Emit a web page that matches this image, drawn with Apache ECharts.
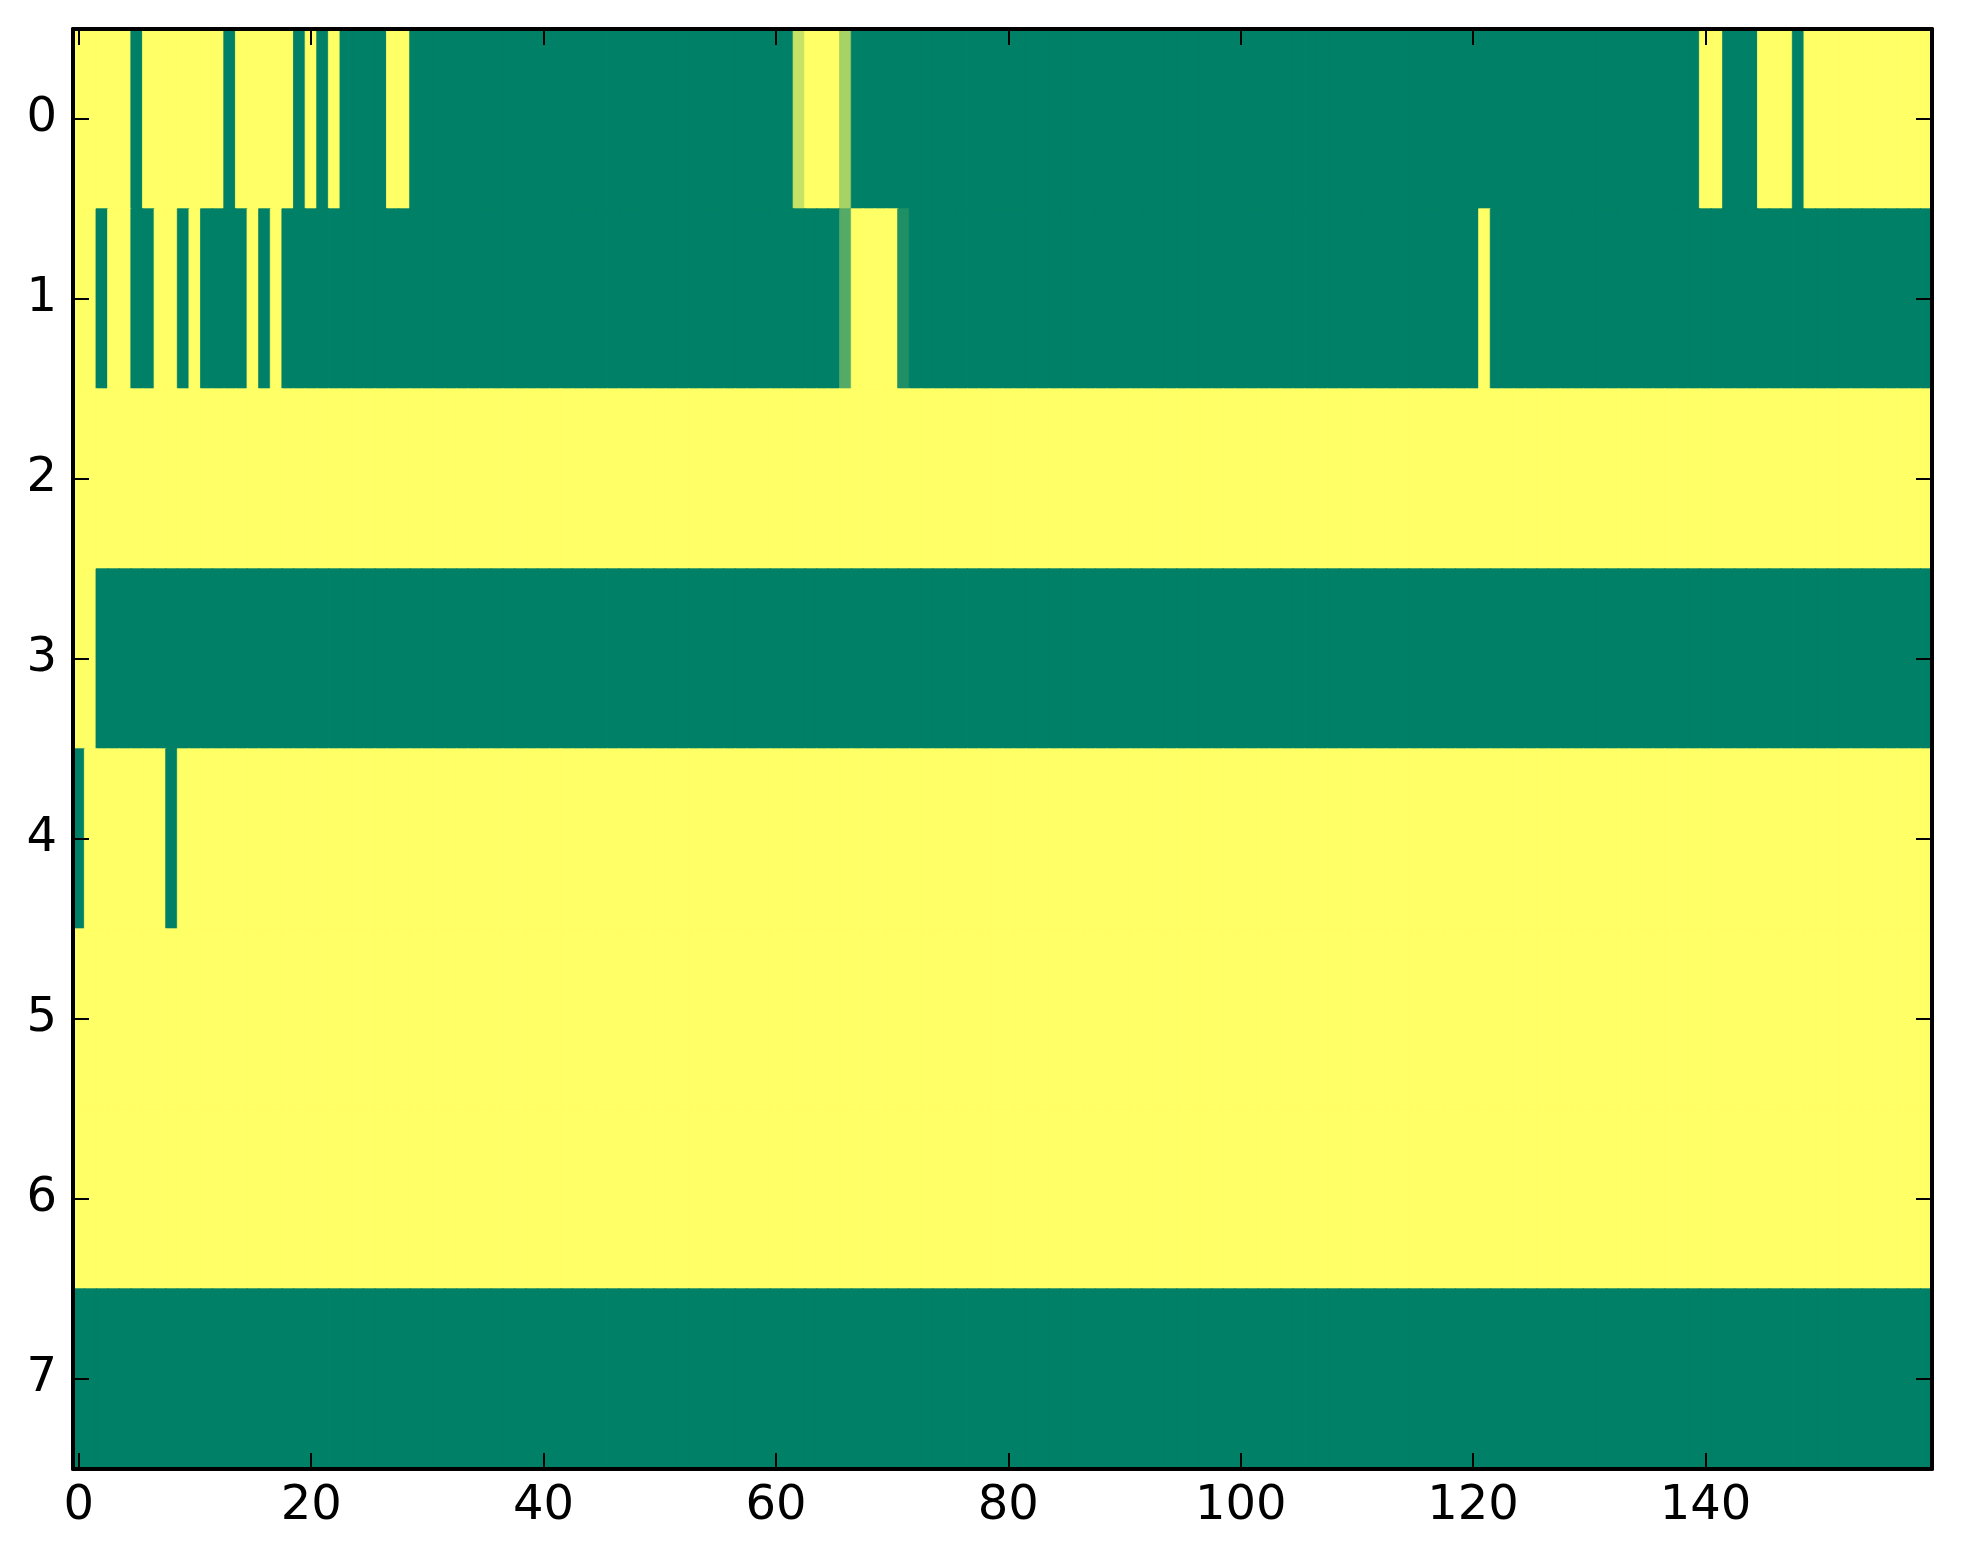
<!DOCTYPE html>
<html>
<head>
<meta charset="utf-8">
<script src="https://cdn.jsdelivr.net/npm/echarts@6/dist/echarts.min.js"></script>
<style>
html,body{margin:0;padding:0;background:#fff;}
#chart{width:1963px;height:1564px;}
</style>
</head>
<body>
<div id="chart"></div>
<script>
// Column categories 0..159 and row categories 0..7
const xCategories = Array.from({length: 160}, (_, i) => String(i));
const yCategories = ['0', '1', '2', '3', '4', '5', '6', '7'];
const xTickLabels = ['0', '20', '40', '60', '80', '100', '120', '140'];

// Cell values per row (0 = green, 1 = yellow)
const row0 = [
  1,1,1,1,1,0,1,1,1,1,1,1,1,0,1,1,1,1,1,0,
  1,0,1,0,0,0,0,1,1,0,0,0,0,0,0,0,0,0,0,0,
  0,0,0,0,0,0,0,0,0,0,0,0,0,0,0,0,0,0,0,0,
  0,0,0.78,1,1,1,0.65,0,0,0,0,0,0,0,0,0,0,0,0,0,
  0,0,0,0,0,0,0,0,0,0,0,0,0,0,0,0,0,0,0,0,
  0,0,0,0,0,0,0,0,0,0,0,0,0,0,0,0,0,0,0,0,
  0,0,0,0,0,0,0,0,0,0,0,0,0,0,0,0,0,0,0,0,
  1,1,0,0,0,1,1,1,0,1,1,1,1,1,1,1,1,1,1,1
];
const row1 = [
  1,1,0,1,1,0,0,1,1,0,1,0,0,0,0,1,0,1,0,0,
  0,0,0,0,0,0,0,0,0,0,0,0,0,0,0,0,0,0,0,0,
  0,0,0,0,0,0,0,0,0,0,0,0,0,0,0,0,0,0,0,0,
  0,0,0,0,0,0,0.33,1,1,1,1,0.12,0,0,0,0,0,0,0,0,
  0,0,0,0,0,0,0,0,0,0,0,0,0,0,0,0,0,0,0,0,
  0,0,0,0,0,0,0,0,0,0,0,0,0,0,0,0,0,0,0,0,
  0,1,0,0,0,0,0,0,0,0,0,0,0,0,0,0,0,0,0,0,
  0,0,0,0,0,0,0,0,0,0,0,0,0,0,0,0,0,0,0,0
];
const row2 = [
  1,1,1,1,1,1,1,1,1,1,1,1,1,1,1,1,1,1,1,1,
  1,1,1,1,1,1,1,1,1,1,1,1,1,1,1,1,1,1,1,1,
  1,1,1,1,1,1,1,1,1,1,1,1,1,1,1,1,1,1,1,1,
  1,1,1,1,1,1,1,1,1,1,1,1,1,1,1,1,1,1,1,1,
  1,1,1,1,1,1,1,1,1,1,1,1,1,1,1,1,1,1,1,1,
  1,1,1,1,1,1,1,1,1,1,1,1,1,1,1,1,1,1,1,1,
  1,1,1,1,1,1,1,1,1,1,1,1,1,1,1,1,1,1,1,1,
  1,1,1,1,1,1,1,1,1,1,1,1,1,1,1,1,1,1,1,1
];
const row3 = [
  1,1,0,0,0,0,0,0,0,0,0,0,0,0,0,0,0,0,0,0,
  0,0,0,0,0,0,0,0,0,0,0,0,0,0,0,0,0,0,0,0,
  0,0,0,0,0,0,0,0,0,0,0,0,0,0,0,0,0,0,0,0,
  0,0,0,0,0,0,0,0,0,0,0,0,0,0,0,0,0,0,0,0,
  0,0,0,0,0,0,0,0,0,0,0,0,0,0,0,0,0,0,0,0,
  0,0,0,0,0,0,0,0,0,0,0,0,0,0,0,0,0,0,0,0,
  0,0,0,0,0,0,0,0,0,0,0,0,0,0,0,0,0,0,0,0,
  0,0,0,0,0,0,0,0,0,0,0,0,0,0,0,0,0,0,0,0
];
const row4 = [
  0,1,1,1,1,1,1,1,0,1,1,1,1,1,1,1,1,1,1,1,
  1,1,1,1,1,1,1,1,1,1,1,1,1,1,1,1,1,1,1,1,
  1,1,1,1,1,1,1,1,1,1,1,1,1,1,1,1,1,1,1,1,
  1,1,1,1,1,1,1,1,1,1,1,1,1,1,1,1,1,1,1,1,
  1,1,1,1,1,1,1,1,1,1,1,1,1,1,1,1,1,1,1,1,
  1,1,1,1,1,1,1,1,1,1,1,1,1,1,1,1,1,1,1,1,
  1,1,1,1,1,1,1,1,1,1,1,1,1,1,1,1,1,1,1,1,
  1,1,1,1,1,1,1,1,1,1,1,1,1,1,1,1,1,1,1,1
];
const row5 = [
  1,1,1,1,1,1,1,1,1,1,1,1,1,1,1,1,1,1,1,1,
  1,1,1,1,1,1,1,1,1,1,1,1,1,1,1,1,1,1,1,1,
  1,1,1,1,1,1,1,1,1,1,1,1,1,1,1,1,1,1,1,1,
  1,1,1,1,1,1,1,1,1,1,1,1,1,1,1,1,1,1,1,1,
  1,1,1,1,1,1,1,1,1,1,1,1,1,1,1,1,1,1,1,1,
  1,1,1,1,1,1,1,1,1,1,1,1,1,1,1,1,1,1,1,1,
  1,1,1,1,1,1,1,1,1,1,1,1,1,1,1,1,1,1,1,1,
  1,1,1,1,1,1,1,1,1,1,1,1,1,1,1,1,1,1,1,1
];
const row6 = [
  1,1,1,1,1,1,1,1,1,1,1,1,1,1,1,1,1,1,1,1,
  1,1,1,1,1,1,1,1,1,1,1,1,1,1,1,1,1,1,1,1,
  1,1,1,1,1,1,1,1,1,1,1,1,1,1,1,1,1,1,1,1,
  1,1,1,1,1,1,1,1,1,1,1,1,1,1,1,1,1,1,1,1,
  1,1,1,1,1,1,1,1,1,1,1,1,1,1,1,1,1,1,1,1,
  1,1,1,1,1,1,1,1,1,1,1,1,1,1,1,1,1,1,1,1,
  1,1,1,1,1,1,1,1,1,1,1,1,1,1,1,1,1,1,1,1,
  1,1,1,1,1,1,1,1,1,1,1,1,1,1,1,1,1,1,1,1
];
const row7 = [
  0,0,0,0,0,0,0,0,0,0,0,0,0,0,0,0,0,0,0,0,
  0,0,0,0,0,0,0,0,0,0,0,0,0,0,0,0,0,0,0,0,
  0,0,0,0,0,0,0,0,0,0,0,0,0,0,0,0,0,0,0,0,
  0,0,0,0,0,0,0,0,0,0,0,0,0,0,0,0,0,0,0,0,
  0,0,0,0,0,0,0,0,0,0,0,0,0,0,0,0,0,0,0,0,
  0,0,0,0,0,0,0,0,0,0,0,0,0,0,0,0,0,0,0,0,
  0,0,0,0,0,0,0,0,0,0,0,0,0,0,0,0,0,0,0,0,
  0,0,0,0,0,0,0,0,0,0,0,0,0,0,0,0,0,0,0,0
];

const rows = [row0, row1, row2, row3, row4, row5, row6, row7];

// "summer" colormap: r = v, g = 0.5 + v/2, b = 0.4
function summer(v) {
  const r = Math.round(255 * v);
  const g = Math.round(255 * (0.5 + v / 2));
  const b = Math.round(255 * 0.4);
  return 'rgb(' + r + ',' + g + ',' + b + ')';
}

const cells = [];
rows.forEach((r, yi) => r.forEach((v, xi) => {
  const c = summer(v);
  cells.push({value: [xi, yi, v], itemStyle: {color: c, borderColor: c, borderWidth: 0.8}});
}));

const FONT = 'DejaVu Sans';
const xTickInterval = (idx) => xTickLabels.indexOf(xCategories[idx]) >= 0;
const axisLine = {show: true, onZero: false, lineStyle: {color: '#000', width: 4}};
const tickStyle = {color: '#000', width: 2};

const chart = echarts.init(document.getElementById('chart'));
chart.setOption({
  animation: false,
  backgroundColor: '#ffffff',
  grid: {left: 73, right: 31, top: 29, bottom: 95, containLabel: false},
  xAxis: [
    {
      type: 'category', data: xCategories, position: 'bottom', z: 10,
      axisLine: axisLine,
      axisTick: {show: true, inside: true, length: 16, alignWithLabel: true, interval: xTickInterval, lineStyle: tickStyle},
      axisLabel: {show: true, interval: xTickInterval, margin: 14, color: '#000', fontFamily: FONT, fontSize: 48},
      splitLine: {show: false}
    },
    {
      type: 'category', data: xCategories, position: 'top', z: 10,
      axisLine: axisLine,
      axisTick: {show: true, inside: true, length: 16, alignWithLabel: true, interval: xTickInterval, lineStyle: tickStyle},
      axisLabel: {show: false},
      splitLine: {show: false}
    }
  ],
  yAxis: [
    {
      type: 'category', data: yCategories, inverse: true, position: 'left', z: 10,
      axisLine: axisLine,
      axisTick: {show: true, inside: true, length: 16, alignWithLabel: true, lineStyle: tickStyle},
      axisLabel: {show: true, margin: 16, color: '#000', fontFamily: FONT, fontSize: 48},
      splitLine: {show: false}
    },
    {
      type: 'category', data: yCategories, inverse: true, position: 'right', z: 10,
      axisLine: axisLine,
      axisTick: {show: true, inside: true, length: 16, alignWithLabel: true, lineStyle: tickStyle},
      axisLabel: {show: false},
      splitLine: {show: false}
    }
  ],
  series: [{
    type: 'heatmap',
    xAxisIndex: 0, yAxisIndex: 0,
    data: cells,
    progressive: 0,
    emphasis: {disabled: true}
  }]
});
</script>
</body>
</html>
